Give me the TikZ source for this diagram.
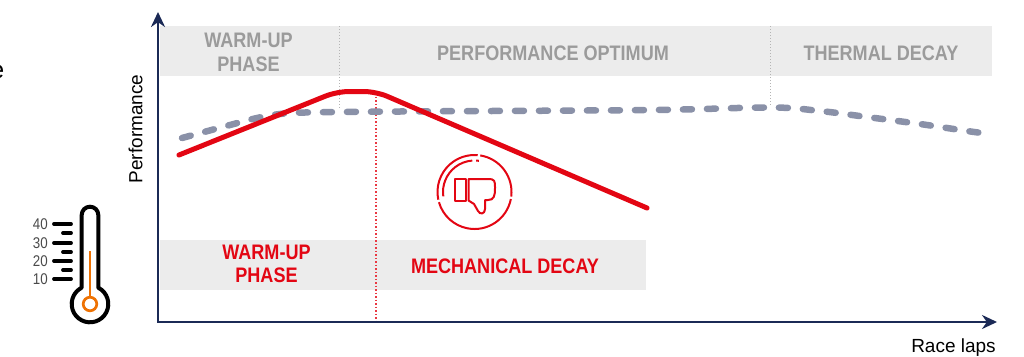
\documentclass[tikz,border=0pt]{standalone}
\usepackage{fontspec}
\setmainfont{Liberation Sans}
\newfontfamily\cnd[FakeStretch=0.86]{Liberation Sans}
\usetikzlibrary{arrows.meta}
\definecolor{navy}{HTML}{1B2A56}
\definecolor{tred}{HTML}{E30613}
\definecolor{band}{HTML}{ECECEC}
\definecolor{graytext}{HTML}{9B9B9B}
\definecolor{dashgray}{HTML}{8A91A8}
\definecolor{torange}{HTML}{EE7203}
\definecolor{sepgray}{HTML}{B4B4B4}
\definecolor{labelgray}{HTML}{4A4A4A}
\begin{document}
\begin{tikzpicture}[x=1pt,y=-1pt,
  phasegray/.style={font=\cnd\bfseries\fontsize{21}{23.5}\selectfont, text=graytext, align=center, inner sep=0},
  phasered/.style={phasegray, text=tred},
  axislabel/.style={font=\fontsize{19}{22}\selectfont, text=black, inner sep=0},
  sepline/.style={draw=sepgray, line width=0.8pt, dash pattern=on 1pt off 2pt},
  reddot/.style={draw=tred!80, line width=1.4pt, dash pattern=on 1.5pt off 2pt},
  perfred/.style={draw=tred, line width=5pt, line cap=round, line join=round},
  perfdash/.style={draw=dashgray, line width=6.5pt, line cap=round, dash pattern=on 9pt off 15pt},
  axisline/.style={draw=navy, line width=2.6pt},
  thermo/.style={draw=black, line width=4pt, line join=round},
  tickmark/.style={draw=black, line width=3.8pt, line cap=round},
  ticklabel/.style={font=\cnd\fontsize{15.5}{17}\selectfont, text=labelgray, inner sep=0, anchor=east},
  icon/.style={draw=tred, line width=2pt, line join=round}
]
\useasboundingbox (0,0) rectangle (1024,356);
% bands
\fill[band] (160,26) rectangle (992,76);
\fill[band] (159.5,240) rectangle (646,290);
% separators
\coordinate (s1t) at (339,26); \coordinate (s1b) at (339,108);
\coordinate (s2t) at (770,26); \coordinate (s2b) at (770,106);
\draw[sepline] (s1t) -- (s1b);
\draw[sepline] (s2t) -- (s2b);
% red dotted
\coordinate (rdt) at (376,93); \coordinate (rdb) at (376,321);
\draw[reddot] (rdt) -- (rdb);
% dashed curve
\draw[perfdash] plot[smooth, tension=0.6] coordinates {(182,138) (230,125) (257,118) (280,114) (305,112.5) (400,111.5) (650,110) (770,107.5) (820,111) (867,117) (920,124) (967,131) (990,134)};
% red curve
\draw[perfred, rounded corners=12pt] (179,155) -- (337,91.5) -- (376,91.5) -- (647,208);
% axes
\coordinate (ytip) at (158,12); \coordinate (org) at (158,322); \coordinate (xtip) at (997,322);
\draw[axisline, {Stealth[length=15pt,width=14pt]}-{Stealth[length=15pt,width=14pt]}] (ytip) -- (org) -- (xtip);
% labels
\node[phasegray] (wu1) at (248.5,52.5) {WARM-UP\\PHASE};
\node[phasegray, anchor=base] (po) at (553,60) {PERFORMANCE OPTIMUM};
\node[phasegray, anchor=base] (td) at (881,60) {THERMAL DECAY};
\node[phasered] (wu2) at (266.5,264) {WARM-UP\\PHASE};
\node[phasered, anchor=base] (md) at (505,273) {MECHANICAL DECAY};
\node[axislabel, rotate=90] (perf) at (135.5,129) {Performance};
\node[axislabel, anchor=base] (laps) at (953.5,352) {Race laps};
\node[font=\fontsize{25}{28}\selectfont, inner sep=0, anchor=base east] (cut) at (4.5,78) {e};
% thermometer
\draw[thermo] (81.7,288) -- (81.7,215) arc[start angle=180, end angle=360, radius=8.3] -- (98.3,287.7) arc[start angle=-63, end angle=243, radius=18.3] -- cycle;
\draw[draw=torange, line width=2.7pt] (90,251) -- (90,297.5);
\draw[draw=torange, line width=2.7pt] (90,304) circle[radius=6.8];
\draw[tickmark] (54,224) -- (71,224);
\draw[tickmark] (54,243) -- (71,243);
\draw[tickmark] (54,261) -- (71,261);
\draw[tickmark] (54,279) -- (71,279);
\draw[tickmark] (63,233) -- (71,233);
\draw[tickmark] (63,252) -- (71,252);
\draw[tickmark] (63,270) -- (71,270);
\node[ticklabel] (t40) at (48,224) {40};
\node[ticklabel] (t30) at (48,243) {30};
\node[ticklabel] (t20) at (48,261) {20};
\node[ticklabel] (t10) at (48,279) {10};
% icon
\coordinate (ic) at (474.5,192);
\draw[icon] (ic) ++(11:37) arc[start angle=11, end angle=164, radius=37];
\draw[icon] (ic) ++(168:37) arc[start angle=168, end angle=275, radius=37];
\draw[icon] (ic) ++(279:37) arc[start angle=279, end angle=367, radius=37];
\draw[icon] (ic) ++(172:31.5) arc[start angle=172, end angle=266, radius=31.5];
\draw[icon] (ic) ++(273:31.5) arc[start angle=273, end angle=278, radius=31.5];
\draw[icon] (455,179) rectangle (465.5,200.5);
\draw[icon] (468.5,179) -- (488,179) .. controls (495,179) and (495,181) .. (495,188) .. controls (495,196) and (494,200) .. (488,200) -- (485,200) -- (485,209) .. controls (485,214) and (480,215) .. (478,211) -- (474,204) -- (468.5,200.5) -- cycle;
\end{tikzpicture}
\end{document}
